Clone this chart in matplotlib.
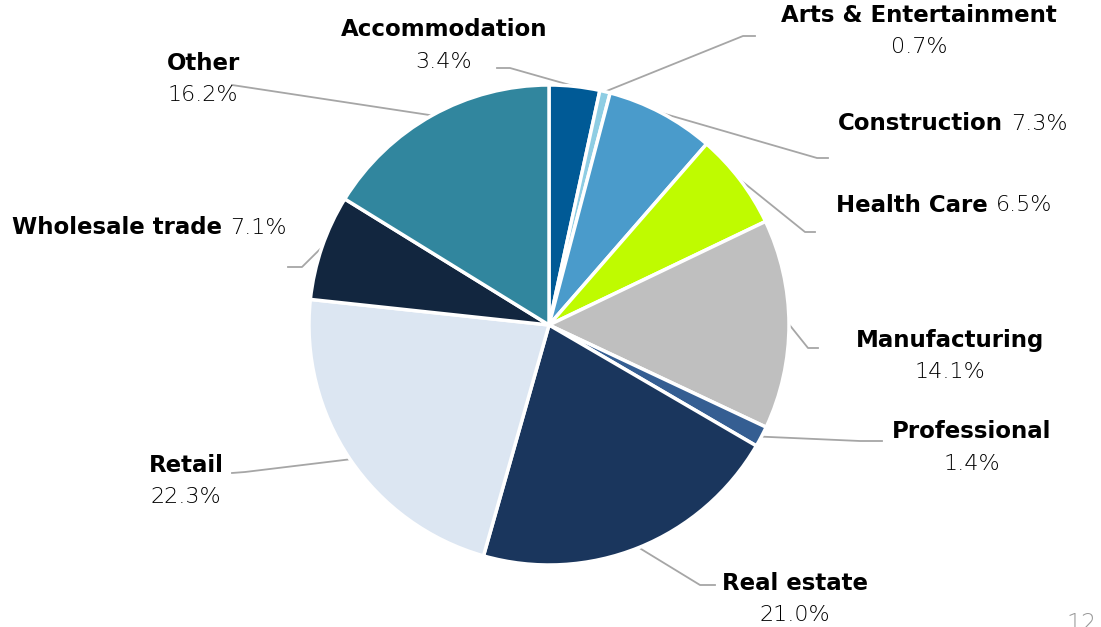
"""Pie chart of the sector mix, with leader-line labels."""

import numpy as np
import matplotlib
matplotlib.use("Agg")
import matplotlib.pyplot as plt

W, H = 1101, 627

categories = ["Accommodation", "Arts & Entertainment", "Construction", "Health Care",
              "Manufacturing", "Professional", "Real estate", "Retail",
              "Wholesale trade", "Other"]
shares = [3.4, 0.7, 7.3, 6.5, 14.1, 1.4, 21.0, 22.3, 7.1, 16.2]
colors = ["#005A96", "#8ECDE3", "#4A9BCB", "#BFFB00", "#BFBFBF",
          "#355E92", "#1A365D", "#DCE6F2", "#12263F", "#31869E"]

# label layout: (name x, name y, stacked?, elbow point, line end), pixel coords from top-left
layout = {
    "Accommodation": ((444, 30), True, (510, 68), (497, 68)),
    "Arts & Entertainment": ((919, 15), True, (743, 36), (755, 36)),
    "Construction": ((838, 124), False, (817, 158), (828, 158)),
    "Health Care": ((836, 205), False, (805, 232), (815, 232)),
    "Manufacturing": ((950, 340), True, (808, 348), (818, 348)),
    "Professional": ((972, 432), True, (860, 441), (882, 441)),
    "Real estate": ((795, 583), True, (700, 585), (715, 585)),
    "Retail": ((186, 465), True, (245, 472), (232, 473)),
    "Wholesale trade": ((12, 228), False, (302, 267), (288, 267)),
    "Other": ((203, 63), True, (232, 85), (232, 85)),
}

center = (549, H - 325)
radius = 240

fig = plt.figure(figsize=(W / 100, H / 100), dpi=100)
ax = fig.add_axes([0, 0, 1, 1])
ax.pie(shares, colors=colors, startangle=90, counterclock=False, radius=radius,
       center=center, wedgeprops={"edgecolor": "white", "linewidth": 2.5})
ax.set_xlim(0, W)
ax.set_ylim(0, H)
ax.set_aspect("equal")
ax.axis("off")

bold = {"family": "DejaVu Sans", "weight": "bold", "size": 16.5, "color": "black"}
light = {"family": "DejaVu Sans", "weight": "light", "size": 16, "color": "black"}

fig.canvas.draw()
renderer = fig.canvas.get_renderer()

cum = np.cumsum(shares) - np.array(shares) / 2
for name, share, mid in zip(categories, shares, cum):
    (tx, ty), stacked, elbow, end = layout[name]
    ang = np.deg2rad(90 - mid / 100 * 360)
    sx = center[0] + radius * np.cos(ang)
    sy = center[1] + radius * np.sin(ang)
    ax.plot([sx, elbow[0], end[0]], [sy, H - elbow[1], H - end[1]],
            color="#A6A6A6", lw=1.3, zorder=0, clip_on=False)
    pct = f"{share:.1f}%"
    if stacked:
        ax.text(tx, H - ty, name, ha="center", va="center", **bold)
        ax.text(tx, H - ty - 32, pct, ha="center", va="center", **light)
    else:
        t = ax.text(tx, H - ty, name, ha="left", va="center", **bold)
        bb = t.get_window_extent(renderer)
        ax.text(bb.x1 + 8, H - ty, pct, ha="left", va="center", **light)

ax.text(1066, -9, "12", ha="left", va="bottom", fontsize=17, color="#999999",
        family="DejaVu Sans", weight="light", clip_on=False)

fig.savefig("out.png", dpi=100)
